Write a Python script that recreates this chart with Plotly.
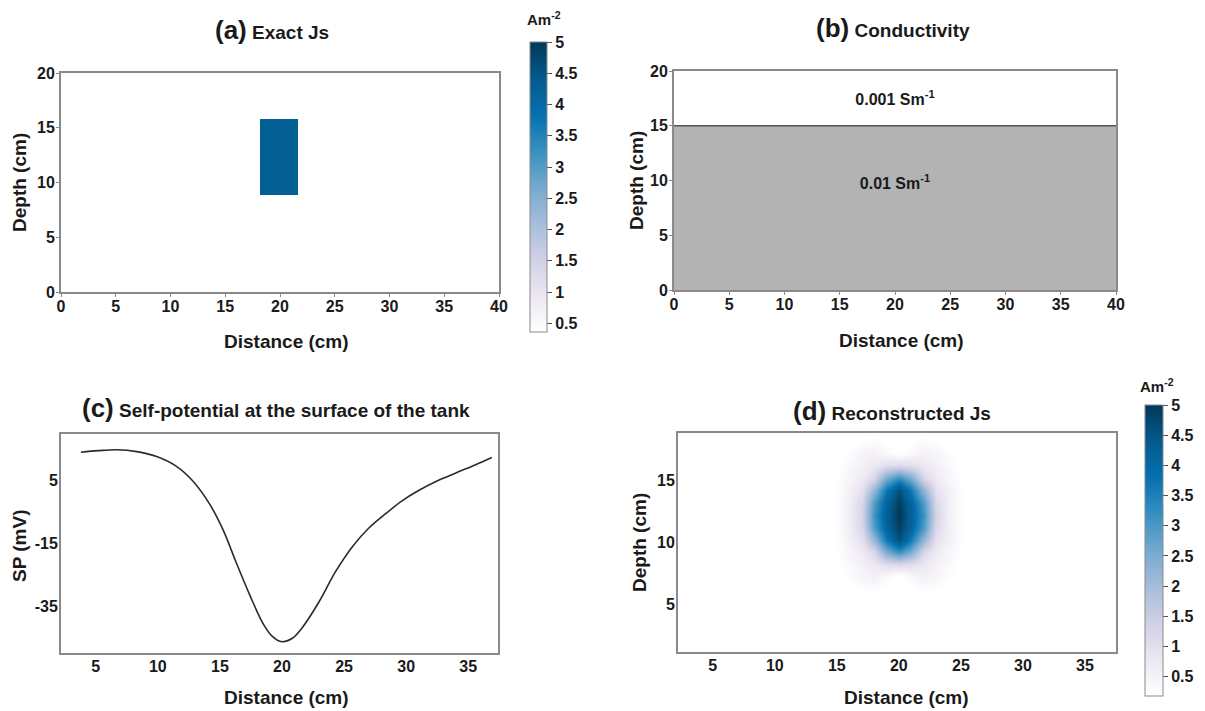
import plotly.graph_objects as go

# ---------------- data ----------------
# (a) exact source current density: one rectangular block
exact_dist_edges = [0, 18.2, 21.6, 40]
exact_depth_edges = [0, 8.9, 15.8, 20]
exact_js = [[None, None, None],
            [None, 4.3, None],
            [None, None, None]]

# (b) two-layer conductivity model
layer_dist = [0, 40]
layer_boundary = [15, 15]
sigma_labels = ["0.001 Sm<sup>-1</sup>", "0.01 Sm<sup>-1</sup>"]
sigma_label_dist = [20, 20]
sigma_label_depth = [17.3, 9.6]

# (c) self-potential profile
sp_dist = [3.8, 5.2, 6.7, 8.3, 9.9, 11.5, 12.8, 14.2, 15.3, 16.3, 17.4, 18.5, 19.2,
           20.0, 20.8, 21.6, 23.0, 24.3, 25.7, 27.0, 28.4, 29.7, 31.0, 32.4, 34.0, 35.6, 36.9]
sp_mv = [14.1, 14.6, 14.9, 14.3, 12.7, 9.6, 5.0, -2.6, -11.0, -20.9, -31.3, -40.6, -44.4,
         -46.2, -45.2, -41.9, -33.4, -24.0, -15.8, -10.0, -5.3, -1.3, 1.9, 4.8, 7.5, 10.1, 12.4]
sp_ticks = [-35, -15, 5]
sp_tick_labels = ["-35", "-15", "5"]

# (d) reconstructed Js (coarse grid; smoothed by plotly)
rec_dist = [2.2, 14, 15, 16, 17, 18, 19, 20, 21, 22, 23, 24, 25, 26, 37.5]
rec_depth = [1.2, 4.2, 5.2, 6.2, 7.2, 8.2, 9.2, 10.2, 11.2, 12.2, 13.2, 14.2, 15.2, 16.2, 17.2, 18.2, 18.8]
rec_js = [
    [0, 0, 0, 0, 0, 0, 0, 0, 0, 0, 0, 0, 0, 0, 0],
    [0, 0, 0, 0, 0, 0, 0, 0, 0, 0, 0, 0, 0, 0, 0],
    [0, 0, 0, 0.03, 0.08, 0.1, 0.06, 0, 0.06, 0.1, 0.08, 0.03, 0, 0, 0],
    [0, 0, 0.02, 0.1, 0.2, 0.25, 0.15, 0.02, 0.15, 0.25, 0.2, 0.1, 0.02, 0, 0],
    [0, 0, 0.06, 0.25, 0.45, 0.55, 0.35, 0.08, 0.35, 0.55, 0.45, 0.25, 0.06, 0, 0],
    [0, 0.01, 0.12, 0.35, 0.55, 0.75, 1.0, 1.1, 1.0, 0.75, 0.55, 0.35, 0.12, 0.01, 0],
    [0, 0.03, 0.18, 0.45, 0.7, 1.2, 2.5, 3.2, 2.5, 1.2, 0.7, 0.45, 0.18, 0.03, 0],
    [0, 0.05, 0.22, 0.55, 0.95, 2.2, 3.6, 4.6, 3.6, 2.2, 0.95, 0.55, 0.22, 0.05, 0],
    [0, 0.06, 0.25, 0.6, 1.2, 2.9, 4.1, 4.9, 4.1, 2.9, 1.2, 0.6, 0.25, 0.06, 0],
    [0, 0.06, 0.25, 0.6, 1.3, 3.1, 4.2, 5.0, 4.2, 3.1, 1.3, 0.6, 0.25, 0.06, 0],
    [0, 0.06, 0.25, 0.6, 1.2, 2.9, 4.1, 4.9, 4.1, 2.9, 1.2, 0.6, 0.25, 0.06, 0],
    [0, 0.05, 0.22, 0.55, 0.95, 2.2, 3.6, 4.6, 3.6, 2.2, 0.95, 0.55, 0.22, 0.05, 0],
    [0, 0.03, 0.18, 0.45, 0.7, 1.2, 2.5, 3.2, 2.5, 1.2, 0.7, 0.45, 0.18, 0.03, 0],
    [0, 0.01, 0.12, 0.35, 0.55, 0.75, 1.0, 1.1, 1.0, 0.75, 0.55, 0.35, 0.12, 0.01, 0],
    [0, 0, 0.06, 0.25, 0.45, 0.55, 0.35, 0.08, 0.35, 0.55, 0.45, 0.25, 0.06, 0, 0],
    [0, 0, 0.02, 0.1, 0.2, 0.25, 0.15, 0.02, 0.15, 0.25, 0.2, 0.1, 0.02, 0, 0],
    [0, 0, 0, 0.04, 0.1, 0.12, 0.07, 0, 0.07, 0.12, 0.1, 0.04, 0, 0, 0],
]

cbar_ticks = [0.5, 1, 1.5, 2, 2.5, 3, 3.5, 4, 4.5, 5]
cbar_labels = ["0.5", "1", "1.5", "2", "2.5", "3", "3.5", "4", "4.5", "5"]

# ---------------- style ----------------
W, H = 1205, 711
FONT = "Liberation Sans, Arial, sans-serif"
TXT = "#1a1a1a"
pubu = [[0, "#ffffff"], [0.125, "rgb(236,231,242)"], [0.25, "rgb(208,209,230)"],
        [0.375, "rgb(166,189,219)"], [0.5, "rgb(116,169,207)"], [0.625, "rgb(54,144,192)"],
        [0.75, "rgb(5,112,176)"], [0.875, "rgb(4,90,141)"], [1, "rgb(2,56,88)"]]


def px(x):
    return x / W


def py(y):
    return 1 - y / H


tickfont = dict(family=FONT, size=16, color=TXT, weight="bold")

fig = go.Figure()

fig.add_trace(go.Heatmap(x=exact_dist_edges, y=exact_depth_edges, z=exact_js,
                         coloraxis="coloraxis", xaxis="x", yaxis="y", hoverongaps=False))

fig.add_trace(go.Scatter(x=layer_dist, y=layer_boundary, mode="lines", fill="tozeroy",
                         fillcolor="#b3b3b3", line=dict(color="#555555", width=1.5),
                         xaxis="x2", yaxis="y2", showlegend=False))
fig.add_trace(go.Scatter(x=sigma_label_dist, y=sigma_label_depth, text=sigma_labels, mode="text",
                         textfont=dict(family=FONT, size=16, color=TXT, weight="bold"),
                         xaxis="x2", yaxis="y2", showlegend=False))

fig.add_trace(go.Scatter(x=sp_dist, y=sp_mv, mode="lines",
                         line=dict(color="#2b2b2b", width=1.6, shape="spline", smoothing=1.0),
                         xaxis="x3", yaxis="y3", showlegend=False))

fig.add_trace(go.Heatmap(x=rec_dist, y=rec_depth, z=rec_js, zsmooth="best",
                         coloraxis="coloraxis2", xaxis="x4", yaxis="y4"))

axis_common = dict(showline=True, linecolor="#8a8a8a", linewidth=2, mirror=True, automargin=False,
                   showgrid=False, zeroline=False, tickfont=tickfont, fixedrange=True)
tick_x = dict(ticks="outside", ticklen=3, tickcolor="#8a8a8a", tickwidth=1, ticklabelstandoff=-4)
tick_y = dict(ticks="outside", ticklen=3, tickcolor="#8a8a8a", tickwidth=1, ticklabelstandoff=-2)
notick_x = dict(ticks="", ticklabelstandoff=-2)
notick_y = dict(ticks="", ticklabelstandoff=-2)


def cbar(x0, ytop, ybot, thick):
    return dict(x=px(x0), xanchor="left", xpad=0,
                y=py((ytop + ybot) / 2), yanchor="middle", ypad=0,
                len=(ybot - ytop) / H, lenmode="fraction", thickness=thick,
                outlinecolor="#8a8a8a", outlinewidth=1,
                tickvals=cbar_ticks, ticktext=cbar_labels,
                ticks="outside", ticklen=5, tickcolor="#555555",
                tickfont=dict(family=FONT, size=16, color=TXT, weight="bold"))


fig.update_layout(
    width=W, height=H, margin=dict(l=0, r=0, t=0, b=0, autoexpand=False),
    paper_bgcolor="white", plot_bgcolor="white", showlegend=False,
    xaxis=dict(domain=[px(61), px(499)], range=[0, 40], dtick=5, anchor="y", **axis_common, **tick_x),
    yaxis=dict(domain=[py(292), py(73)], range=[0, 20], dtick=5, anchor="x", **axis_common, **tick_y),
    xaxis2=dict(domain=[px(674), px(1116)], range=[0, 40], dtick=5, anchor="y2", **axis_common, **tick_x),
    yaxis2=dict(domain=[py(290), py(71)], range=[0, 20], dtick=5, anchor="x2", **axis_common, **tick_y),
    xaxis3=dict(domain=[px(61), px(498)], range=[2.2, 37.4], dtick=5, tick0=0, anchor="y3",
                **axis_common, **notick_x),
    yaxis3=dict(domain=[py(653), py(434)], range=[-49.8, 19.9], tickvals=sp_ticks,
                ticktext=sp_tick_labels, anchor="x3", **axis_common, **notick_y),
    xaxis4=dict(domain=[px(678), px(1116)], range=[2.2, 37.5], dtick=5, tick0=0, anchor="y4",
                **axis_common, **notick_x),
    yaxis4=dict(domain=[py(652), py(433)], range=[1.2, 18.8], dtick=5, tick0=0, anchor="x4",
                **axis_common, **notick_y),
    coloraxis=dict(cmin=0.36, cmax=5, colorscale=pubu, colorbar=cbar(530, 42, 332, 17)),
    coloraxis2=dict(cmin=0.18, cmax=5, colorscale=pubu, colorbar=cbar(1145, 405, 696, 18)),
)


def title(letter, text, xc, yc):
    return dict(xref="paper", yref="paper", x=px(xc), y=py(yc), xanchor="center", yanchor="middle",
                showarrow=False,
                text=f"<b><span style='font-size:26px'>({letter})</span> "
                     f"<span style='font-size:19px'>{text}</span></b>",
                font=dict(family=FONT, size=19, color=TXT))


def label(text, xc, yc, angle=0, size=19):
    return dict(xref="paper", yref="paper", x=px(xc), y=py(yc), xanchor="center", yanchor="middle",
                showarrow=False, textangle=angle, text=f"<b>{text}</b>",
                font=dict(family=FONT, size=size, color=TXT))


annotations = [
    title("a", "Exact Js", 272, 30),
    title("b", "Conductivity", 893, 28),
    title("c", "Self-potential at the surface of the tank", 276, 408),
    title("d", "Reconstructed Js", 892, 411),
    label("Distance (cm)", 286, 341),
    label("Depth (cm)", 20, 183, -90),
    label("Distance (cm)", 901, 340),
    label("Depth (cm)", 636, 181, -90),
    label("Distance (cm)", 286, 697),
    label("SP (mV)", 19, 546, -90),
    label("Distance (cm)", 906, 697),
    label("Depth (cm)", 639, 543, -90),
    label("Am<sup>-2</sup>", 544, 19, 0, 15),
    label("Am<sup>-2</sup>", 1157, 386, 0, 15),
]
fig.update_layout(annotations=annotations)

fig.write_html("out.html", config={"displayModeBar": False},
               post_script="document.body.style.margin='0px';document.body.style.overflow='hidden';")
